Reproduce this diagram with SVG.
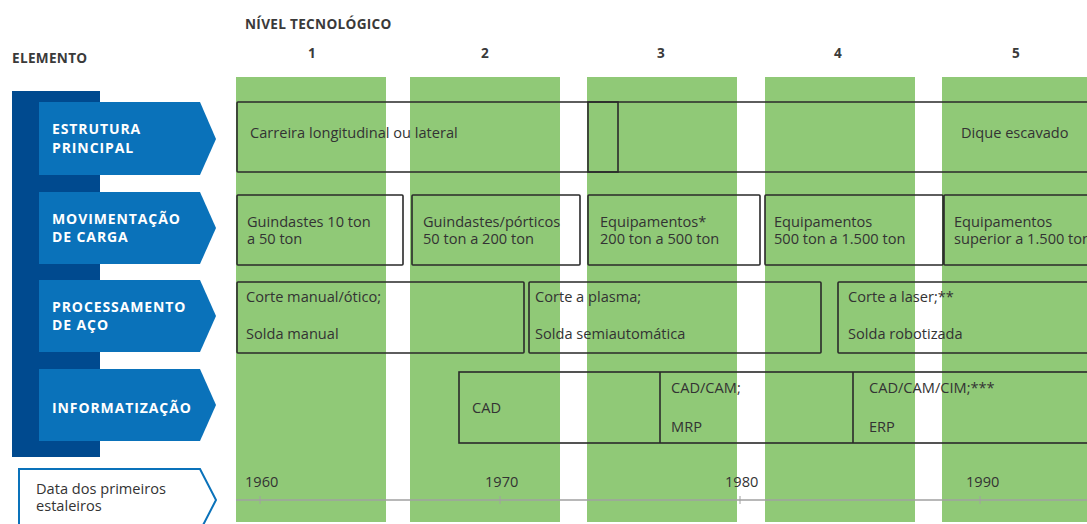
<svg xmlns="http://www.w3.org/2000/svg" width="1087" height="524" viewBox="0 0 1087 524">
<style>
.col{fill:#90c977}
.bx{fill:none;stroke:#2a2a2a;stroke-width:1.6}
.t{font-family:"Open Sans","Liberation Sans",sans-serif;font-size:14.6px;fill:#333333}
.h{font-family:"Open Sans","Liberation Sans",sans-serif;font-size:13.6px;font-weight:700;fill:#3a3a3a;letter-spacing:0.3px}
.w{font-family:"Open Sans","Liberation Sans",sans-serif;font-size:14px;font-weight:700;fill:#ffffff;letter-spacing:0.9px}
.arr{fill:#0a72ba}
</style>
<rect width="1087" height="524" fill="#ffffff"/>
<g id="columns">
<rect class="col" x="236" y="77" width="150" height="445"/>
<rect class="col" x="410" y="77" width="150" height="445"/>
<rect class="col" x="587" y="77" width="150" height="445"/>
<rect class="col" x="765" y="77" width="150" height="445"/>
<rect class="col" x="942" y="77" width="146" height="445"/>
</g>
<g id="headers">
<text class="h" x="12" y="63">ELEMENTO</text>
<text class="h" x="245" y="29">NÍVEL TECNOLÓGICO</text>
<text class="h" x="308" y="58">1</text>
<text class="h" x="481" y="58">2</text>
<text class="h" x="657" y="58">3</text>
<text class="h" x="834" y="58">4</text>
<text class="h" x="1012" y="58">5</text>
</g>
<g id="elements">
<rect x="12" y="91" width="88" height="366" fill="#004a8f"/>
<g id="el-estrutura">
<path class="arr" d="M39,102 H200 L216,139 L200,175 H39 Z"/>
<text class="w" x="52" y="134">ESTRUTURA</text>
<text class="w" x="52" y="153">PRINCIPAL</text>
</g>
<g id="el-movimentacao">
<path class="arr" d="M39,192 H200 L216,228 L200,264 H39 Z"/>
<text class="w" x="52" y="224">MOVIMENTAÇÃO</text>
<text class="w" x="52" y="242">DE CARGA</text>
</g>
<g id="el-processamento">
<path class="arr" d="M39,280 H200 L216,316 L200,352 H39 Z"/>
<text class="w" x="52" y="312">PROCESSAMENTO</text>
<text class="w" x="52" y="330">DE AÇO</text>
</g>
<g id="el-informatizacao">
<path class="arr" d="M39,369 H200 L216,405 L200,441 H39 Z"/>
<text class="w" x="52" y="413">INFORMATIZAÇÃO</text>
</g>
<g id="el-data">
<path d="M19,530 V469 H200 L216,500 L200,531" fill="#ffffff" stroke="#0a72ba" stroke-width="2"/>
<text class="t" x="36" y="494">Data dos primeiros</text>
<text class="t" x="36" y="511">estaleiros</text>
</g>
</g>
<g id="row1">
<rect class="bx" x="237" y="102" width="860" height="70" rx="1"/>
<rect class="bx" x="588" y="102" width="30" height="70"/>
<text class="t" x="250" y="138">Carreira longitudinal ou lateral</text>
<text class="t" x="961" y="138">Dique escavado</text>
</g>
<g id="row2">
<rect class="bx" x="237" y="195" width="166" height="70" rx="1"/>
<text class="t" x="247" y="227">Guindastes 10 ton</text>
<text class="t" x="247" y="244">a 50 ton</text>
<rect class="bx" x="412" y="195" width="168" height="70" rx="1"/>
<text class="t" x="423" y="227">Guindastes/pórticos</text>
<text class="t" x="423" y="244">50 ton a 200 ton</text>
<rect class="bx" x="588" y="195" width="172" height="70" rx="1"/>
<text class="t" x="600" y="227">Equipamentos*</text>
<text class="t" x="600" y="244">200 ton a 500 ton</text>
<rect class="bx" x="765" y="195" width="178" height="70" rx="1"/>
<text class="t" x="774" y="227">Equipamentos</text>
<text class="t" x="774" y="244">500 ton a 1.500 ton</text>
<rect class="bx" x="944" y="195" width="160" height="70" rx="1"/>
<text class="t" x="954" y="227">Equipamentos</text>
<text class="t" x="954" y="244">superior a 1.500 ton</text>
</g>
<g id="row3">
<rect class="bx" x="237" y="282" width="287" height="71" rx="1"/>
<text class="t" x="246" y="302">Corte manual/ótico;</text>
<text class="t" x="246" y="339">Solda manual</text>
<rect class="bx" x="529" y="282" width="292" height="71" rx="1"/>
<text class="t" x="535" y="302">Corte a plasma;</text>
<text class="t" x="535" y="339">Solda semiautomática</text>
<rect class="bx" x="838" y="282" width="260" height="71" rx="1"/>
<text class="t" x="848" y="302">Corte a laser;**</text>
<text class="t" x="848" y="339">Solda robotizada</text>
</g>
<g id="row4">
<rect class="bx" x="459" y="372" width="640" height="71"/>
<line class="bx" x1="660" y1="372" x2="660" y2="443"/>
<line class="bx" x1="853" y1="372" x2="853" y2="443"/>
<text class="t" x="472" y="413">CAD</text>
<text class="t" x="671" y="393">CAD/CAM;</text>
<text class="t" x="671" y="432">MRP</text>
<text class="t" x="869" y="393">CAD/CAM/CIM;***</text>
<text class="t" x="869" y="432">ERP</text>
</g>
<g id="timeline">
<line x1="236" y1="500" x2="1087" y2="500" stroke="#a0a0a0" stroke-width="1.5"/>
<g stroke="#a0a0a0" stroke-width="1">
<line x1="260" y1="496" x2="260" y2="504"/>
<line x1="500" y1="496" x2="500" y2="504"/>
<line x1="740" y1="496" x2="740" y2="504"/>
<line x1="980" y1="496" x2="980" y2="504"/>
</g>
<text class="t" x="245" y="487">1960</text>
<text class="t" x="485" y="487">1970</text>
<text class="t" x="725" y="487">1980</text>
<text class="t" x="966" y="487">1990</text>
</g>
</svg>
